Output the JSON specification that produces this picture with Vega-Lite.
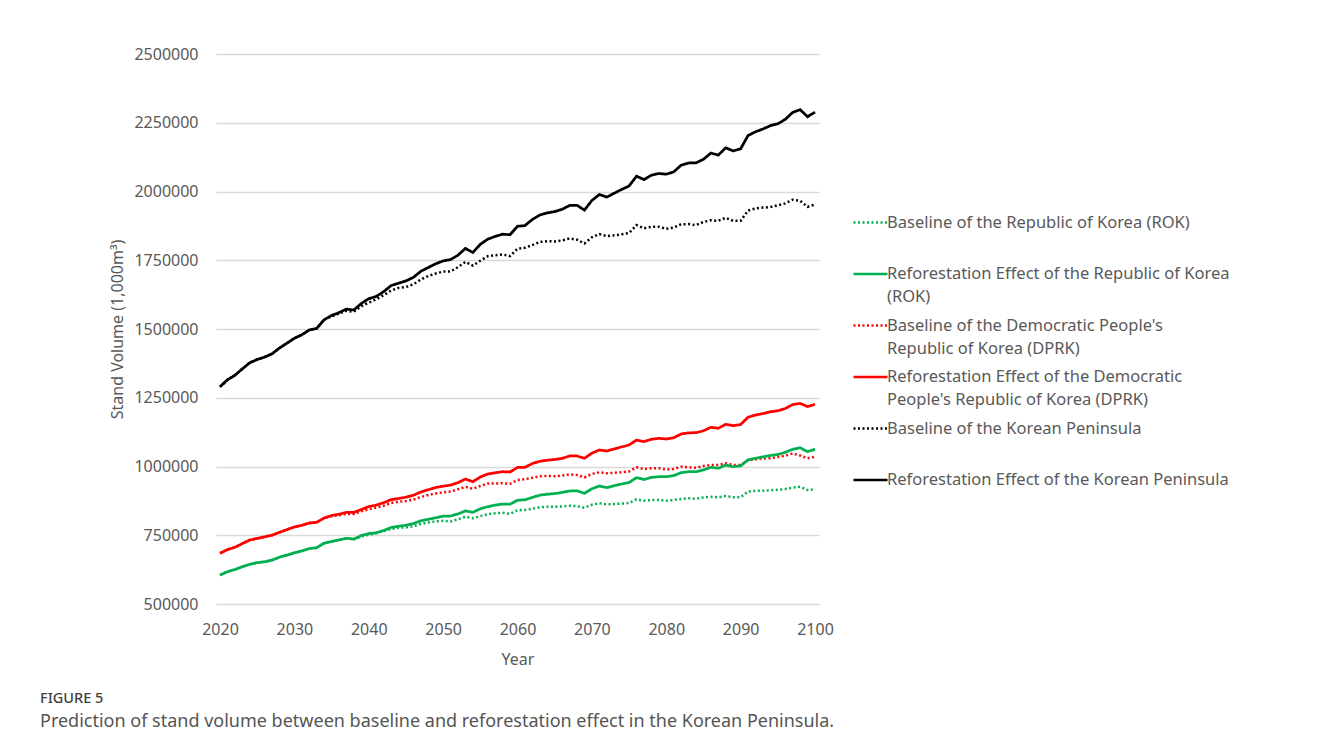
{
"$schema": "https://vega.github.io/schema/vega-lite/v6.json",
"width": 603, "height": 550,
"autosize": {"type": "none"},
"padding": {"left": 216, "top": 54, "right": 501, "bottom": 145},
"background": "white",
"config": {"view": {"stroke": null}, "font": "Noto Sans"},
"title": {"text": "FIGURE 5", "subtitle": "Prediction of stand volume between baseline and reforestation effect in the Korean Peninsula.", "orient": "bottom", "anchor": "start", "frame": "group", "dx": -176, "offset": 25, "font": "Noto Sans", "fontSize": 14.5, "fontWeight": 500, "color": "#404040", "subtitleFont": "Noto Sans", "subtitleFontSize": 18, "subtitleColor": "#555555", "subtitlePadding": 6},
"datasets": {"d": [
{"x":2020,"s":"a","v":605500},{"x":2021,"s":"a","v":617400},{"x":2022,"s":"a","v":625500},{"x":2023,"s":"a","v":635300},{"x":2024,"s":"a","v":644400},{"x":2025,"s":"a","v":650500},{"x":2026,"s":"a","v":653500},{"x":2027,"s":"a","v":659600},{"x":2028,"s":"a","v":670200},{"x":2029,"s":"a","v":677800},{"x":2030,"s":"a","v":686200},{"x":2031,"s":"a","v":692700},{"x":2032,"s":"a","v":701800},{"x":2033,"s":"a","v":704700},{"x":2034,"s":"a","v":721100},{"x":2035,"s":"a","v":727300},{"x":2036,"s":"a","v":733100},{"x":2037,"s":"a","v":738900},{"x":2038,"s":"a","v":735600},{"x":2039,"s":"a","v":745500},{"x":2040,"s":"a","v":751600},{"x":2041,"s":"a","v":757500},{"x":2042,"s":"a","v":765500},{"x":2043,"s":"a","v":772700},{"x":2044,"s":"a","v":777500},{"x":2045,"s":"a","v":778500},{"x":2046,"s":"a","v":782900},{"x":2047,"s":"a","v":790900},{"x":2048,"s":"a","v":796400},{"x":2049,"s":"a","v":800400},{"x":2050,"s":"a","v":802500},{"x":2051,"s":"a","v":800000},{"x":2052,"s":"a","v":808000},{"x":2053,"s":"a","v":817800},{"x":2054,"s":"a","v":811600},{"x":2055,"s":"a","v":819300},{"x":2056,"s":"a","v":826200},{"x":2057,"s":"a","v":830200},{"x":2058,"s":"a","v":831600},{"x":2059,"s":"a","v":828000},{"x":2060,"s":"a","v":841100},{"x":2061,"s":"a","v":841800},{"x":2062,"s":"a","v":846200},{"x":2063,"s":"a","v":852000},{"x":2064,"s":"a","v":853800},{"x":2065,"s":"a","v":853800},{"x":2066,"s":"a","v":854900},{"x":2067,"s":"a","v":857500},{"x":2068,"s":"a","v":855600},{"x":2069,"s":"a","v":850200},{"x":2070,"s":"a","v":860700},{"x":2071,"s":"a","v":866200},{"x":2072,"s":"a","v":862500},{"x":2073,"s":"a","v":863600},{"x":2074,"s":"a","v":865100},{"x":2075,"s":"a","v":867300},{"x":2076,"s":"a","v":880700},{"x":2077,"s":"a","v":875600},{"x":2078,"s":"a","v":878200},{"x":2079,"s":"a","v":878200},{"x":2080,"s":"a","v":875300},{"x":2081,"s":"a","v":878200},{"x":2082,"s":"a","v":881800},{"x":2083,"s":"a","v":884400},{"x":2084,"s":"a","v":882500},{"x":2085,"s":"a","v":887300},{"x":2086,"s":"a","v":889800},{"x":2087,"s":"a","v":888000},{"x":2088,"s":"a","v":892700},{"x":2089,"s":"a","v":888000},{"x":2090,"s":"a","v":888000},{"x":2091,"s":"a","v":909100},{"x":2092,"s":"a","v":912000},{"x":2093,"s":"a","v":912000},{"x":2094,"s":"a","v":913500},{"x":2095,"s":"a","v":915300},{"x":2096,"s":"a","v":917800},{"x":2097,"s":"a","v":922900},{"x":2098,"s":"a","v":926200},{"x":2099,"s":"a","v":914500},{"x":2100,"s":"a","v":917100},
{"x":2020,"s":"b","v":605500},{"x":2021,"s":"b","v":617400},{"x":2022,"s":"b","v":625500},{"x":2023,"s":"b","v":635300},{"x":2024,"s":"b","v":644400},{"x":2025,"s":"b","v":650500},{"x":2026,"s":"b","v":653500},{"x":2027,"s":"b","v":659600},{"x":2028,"s":"b","v":670200},{"x":2029,"s":"b","v":677800},{"x":2030,"s":"b","v":686200},{"x":2031,"s":"b","v":692700},{"x":2032,"s":"b","v":701800},{"x":2033,"s":"b","v":704700},{"x":2034,"s":"b","v":721100},{"x":2035,"s":"b","v":727300},{"x":2036,"s":"b","v":733100},{"x":2037,"s":"b","v":738900},{"x":2038,"s":"b","v":736000},{"x":2039,"s":"b","v":749100},{"x":2040,"s":"b","v":756000},{"x":2041,"s":"b","v":758900},{"x":2042,"s":"b","v":767300},{"x":2043,"s":"b","v":778200},{"x":2044,"s":"b","v":782900},{"x":2045,"s":"b","v":786500},{"x":2046,"s":"b","v":792400},{"x":2047,"s":"b","v":802500},{"x":2048,"s":"b","v":808000},{"x":2049,"s":"b","v":813500},{"x":2050,"s":"b","v":819300},{"x":2051,"s":"b","v":820000},{"x":2052,"s":"b","v":827300},{"x":2053,"s":"b","v":838500},{"x":2054,"s":"b","v":833500},{"x":2055,"s":"b","v":846200},{"x":2056,"s":"b","v":853800},{"x":2057,"s":"b","v":859600},{"x":2058,"s":"b","v":863600},{"x":2059,"s":"b","v":862900},{"x":2060,"s":"b","v":877100},{"x":2061,"s":"b","v":878900},{"x":2062,"s":"b","v":887600},{"x":2063,"s":"b","v":895600},{"x":2064,"s":"b","v":899300},{"x":2065,"s":"b","v":901500},{"x":2066,"s":"b","v":905800},{"x":2067,"s":"b","v":910900},{"x":2068,"s":"b","v":911600},{"x":2069,"s":"b","v":902500},{"x":2070,"s":"b","v":918900},{"x":2071,"s":"b","v":929100},{"x":2072,"s":"b","v":923300},{"x":2073,"s":"b","v":930200},{"x":2074,"s":"b","v":936400},{"x":2075,"s":"b","v":941800},{"x":2076,"s":"b","v":959600},{"x":2077,"s":"b","v":952700},{"x":2078,"s":"b","v":960400},{"x":2079,"s":"b","v":962900},{"x":2080,"s":"b","v":962900},{"x":2081,"s":"b","v":966900},{"x":2082,"s":"b","v":977500},{"x":2083,"s":"b","v":981100},{"x":2084,"s":"b","v":981100},{"x":2085,"s":"b","v":987300},{"x":2086,"s":"b","v":997100},{"x":2087,"s":"b","v":993500},{"x":2088,"s":"b","v":1005500},{"x":2089,"s":"b","v":999300},{"x":2090,"s":"b","v":1002500},{"x":2091,"s":"b","v":1024400},{"x":2092,"s":"b","v":1029800},{"x":2093,"s":"b","v":1034900},{"x":2094,"s":"b","v":1040400},{"x":2095,"s":"b","v":1043600},{"x":2096,"s":"b","v":1051300},{"x":2097,"s":"b","v":1062500},{"x":2098,"s":"b","v":1068000},{"x":2099,"s":"b","v":1054200},{"x":2100,"s":"b","v":1062500},
{"x":2020,"s":"c","v":684400},{"x":2021,"s":"c","v":697800},{"x":2022,"s":"c","v":706200},{"x":2023,"s":"c","v":719600},{"x":2024,"s":"c","v":732700},{"x":2025,"s":"c","v":738500},{"x":2026,"s":"c","v":744400},{"x":2027,"s":"c","v":750200},{"x":2028,"s":"c","v":760700},{"x":2029,"s":"c","v":770500},{"x":2030,"s":"c","v":780000},{"x":2031,"s":"c","v":786200},{"x":2032,"s":"c","v":794500},{"x":2033,"s":"c","v":797100},{"x":2034,"s":"c","v":812700},{"x":2035,"s":"c","v":818900},{"x":2036,"s":"c","v":822900},{"x":2037,"s":"c","v":827300},{"x":2038,"s":"c","v":827300},{"x":2039,"s":"c","v":837100},{"x":2040,"s":"c","v":844400},{"x":2041,"s":"c","v":850500},{"x":2042,"s":"c","v":857100},{"x":2043,"s":"c","v":867300},{"x":2044,"s":"c","v":872000},{"x":2045,"s":"c","v":874200},{"x":2046,"s":"c","v":879600},{"x":2047,"s":"c","v":889100},{"x":2048,"s":"c","v":896400},{"x":2049,"s":"c","v":901500},{"x":2050,"s":"c","v":906200},{"x":2051,"s":"c","v":909100},{"x":2052,"s":"c","v":917100},{"x":2053,"s":"c","v":926200},{"x":2054,"s":"c","v":918900},{"x":2055,"s":"c","v":929100},{"x":2056,"s":"c","v":938200},{"x":2057,"s":"c","v":937800},{"x":2058,"s":"c","v":939300},{"x":2059,"s":"c","v":937100},{"x":2060,"s":"c","v":950900},{"x":2061,"s":"c","v":953500},{"x":2062,"s":"c","v":958900},{"x":2063,"s":"c","v":964700},{"x":2064,"s":"c","v":965500},{"x":2065,"s":"c","v":964700},{"x":2066,"s":"c","v":967300},{"x":2067,"s":"c","v":971600},{"x":2068,"s":"c","v":969100},{"x":2069,"s":"c","v":960700},{"x":2070,"s":"c","v":972700},{"x":2071,"s":"c","v":978900},{"x":2072,"s":"c","v":975300},{"x":2073,"s":"c","v":977100},{"x":2074,"s":"c","v":979300},{"x":2075,"s":"c","v":981800},{"x":2076,"s":"c","v":997100},{"x":2077,"s":"c","v":990900},{"x":2078,"s":"c","v":993500},{"x":2079,"s":"c","v":993500},{"x":2080,"s":"c","v":989100},{"x":2081,"s":"c","v":990900},{"x":2082,"s":"c","v":999300},{"x":2083,"s":"c","v":997100},{"x":2084,"s":"c","v":995300},{"x":2085,"s":"c","v":1001800},{"x":2086,"s":"c","v":1005500},{"x":2087,"s":"c","v":1005500},{"x":2088,"s":"c","v":1011600},{"x":2089,"s":"c","v":1005500},{"x":2090,"s":"c","v":1005500},{"x":2091,"s":"c","v":1021800},{"x":2092,"s":"c","v":1026200},{"x":2093,"s":"c","v":1029500},{"x":2094,"s":"c","v":1029800},{"x":2095,"s":"c","v":1034500},{"x":2096,"s":"c","v":1038900},{"x":2097,"s":"c","v":1047300},{"x":2098,"s":"c","v":1040000},{"x":2099,"s":"c","v":1029800},{"x":2100,"s":"c","v":1035600},
{"x":2020,"s":"d","v":684400},{"x":2021,"s":"d","v":697800},{"x":2022,"s":"d","v":706200},{"x":2023,"s":"d","v":719600},{"x":2024,"s":"d","v":732700},{"x":2025,"s":"d","v":738500},{"x":2026,"s":"d","v":744400},{"x":2027,"s":"d","v":750200},{"x":2028,"s":"d","v":760700},{"x":2029,"s":"d","v":770500},{"x":2030,"s":"d","v":780000},{"x":2031,"s":"d","v":786200},{"x":2032,"s":"d","v":794500},{"x":2033,"s":"d","v":797100},{"x":2034,"s":"d","v":812700},{"x":2035,"s":"d","v":821800},{"x":2036,"s":"d","v":826500},{"x":2037,"s":"d","v":833500},{"x":2038,"s":"d","v":833100},{"x":2039,"s":"d","v":843600},{"x":2040,"s":"d","v":854200},{"x":2041,"s":"d","v":859300},{"x":2042,"s":"d","v":868400},{"x":2043,"s":"d","v":879600},{"x":2044,"s":"d","v":883600},{"x":2045,"s":"d","v":888400},{"x":2046,"s":"d","v":895300},{"x":2047,"s":"d","v":907300},{"x":2048,"s":"d","v":915600},{"x":2049,"s":"d","v":923600},{"x":2050,"s":"d","v":928400},{"x":2051,"s":"d","v":932400},{"x":2052,"s":"d","v":941100},{"x":2053,"s":"d","v":954500},{"x":2054,"s":"d","v":944700},{"x":2055,"s":"d","v":961800},{"x":2056,"s":"d","v":972700},{"x":2057,"s":"d","v":977100},{"x":2058,"s":"d","v":981100},{"x":2059,"s":"d","v":980000},{"x":2060,"s":"d","v":996400},{"x":2061,"s":"d","v":997100},{"x":2062,"s":"d","v":1010900},{"x":2063,"s":"d","v":1018900},{"x":2064,"s":"d","v":1022900},{"x":2065,"s":"d","v":1025500},{"x":2066,"s":"d","v":1029500},{"x":2067,"s":"d","v":1038200},{"x":2068,"s":"d","v":1038200},{"x":2069,"s":"d","v":1029800},{"x":2070,"s":"d","v":1048400},{"x":2071,"s":"d","v":1060000},{"x":2072,"s":"d","v":1056400},{"x":2073,"s":"d","v":1063600},{"x":2074,"s":"d","v":1071300},{"x":2075,"s":"d","v":1078200},{"x":2076,"s":"d","v":1096000},{"x":2077,"s":"d","v":1090500},{"x":2078,"s":"d","v":1098900},{"x":2079,"s":"d","v":1102500},{"x":2080,"s":"d","v":1100000},{"x":2081,"s":"d","v":1104400},{"x":2082,"s":"d","v":1118200},{"x":2083,"s":"d","v":1122500},{"x":2084,"s":"d","v":1122900},{"x":2085,"s":"d","v":1129800},{"x":2086,"s":"d","v":1142500},{"x":2087,"s":"d","v":1138900},{"x":2088,"s":"d","v":1153500},{"x":2089,"s":"d","v":1148400},{"x":2090,"s":"d","v":1152700},{"x":2091,"s":"d","v":1179300},{"x":2092,"s":"d","v":1187300},{"x":2093,"s":"d","v":1192400},{"x":2094,"s":"d","v":1198900},{"x":2095,"s":"d","v":1202500},{"x":2096,"s":"d","v":1210900},{"x":2097,"s":"d","v":1225100},{"x":2098,"s":"d","v":1229500},{"x":2099,"s":"d","v":1217800},{"x":2100,"s":"d","v":1226200},
{"x":2020,"s":"e","v":1289800},{"x":2021,"s":"e","v":1315300},{"x":2022,"s":"e","v":1331600},{"x":2023,"s":"e","v":1354900},{"x":2024,"s":"e","v":1377100},{"x":2025,"s":"e","v":1389100},{"x":2026,"s":"e","v":1397800},{"x":2027,"s":"e","v":1409800},{"x":2028,"s":"e","v":1430900},{"x":2029,"s":"e","v":1448400},{"x":2030,"s":"e","v":1466200},{"x":2031,"s":"e","v":1478900},{"x":2032,"s":"e","v":1496400},{"x":2033,"s":"e","v":1501800},{"x":2034,"s":"e","v":1533800},{"x":2035,"s":"e","v":1546200},{"x":2036,"s":"e","v":1556000},{"x":2037,"s":"e","v":1566200},{"x":2038,"s":"e","v":1562900},{"x":2039,"s":"e","v":1582500},{"x":2040,"s":"e","v":1596000},{"x":2041,"s":"e","v":1608000},{"x":2042,"s":"e","v":1622500},{"x":2043,"s":"e","v":1640000},{"x":2044,"s":"e","v":1649500},{"x":2045,"s":"e","v":1652700},{"x":2046,"s":"e","v":1662500},{"x":2047,"s":"e","v":1680000},{"x":2048,"s":"e","v":1692700},{"x":2049,"s":"e","v":1701800},{"x":2050,"s":"e","v":1708700},{"x":2051,"s":"e","v":1709100},{"x":2052,"s":"e","v":1725100},{"x":2053,"s":"e","v":1744000},{"x":2054,"s":"e","v":1730500},{"x":2055,"s":"e","v":1748400},{"x":2056,"s":"e","v":1764400},{"x":2057,"s":"e","v":1768000},{"x":2058,"s":"e","v":1770900},{"x":2059,"s":"e","v":1765100},{"x":2060,"s":"e","v":1792000},{"x":2061,"s":"e","v":1795300},{"x":2062,"s":"e","v":1805100},{"x":2063,"s":"e","v":1816700},{"x":2064,"s":"e","v":1819300},{"x":2065,"s":"e","v":1818500},{"x":2066,"s":"e","v":1822200},{"x":2067,"s":"e","v":1829100},{"x":2068,"s":"e","v":1824700},{"x":2069,"s":"e","v":1810900},{"x":2070,"s":"e","v":1833500},{"x":2071,"s":"e","v":1845100},{"x":2072,"s":"e","v":1837800},{"x":2073,"s":"e","v":1840700},{"x":2074,"s":"e","v":1844400},{"x":2075,"s":"e","v":1849100},{"x":2076,"s":"e","v":1877800},{"x":2077,"s":"e","v":1866500},{"x":2078,"s":"e","v":1871600},{"x":2079,"s":"e","v":1871600},{"x":2080,"s":"e","v":1864400},{"x":2081,"s":"e","v":1869100},{"x":2082,"s":"e","v":1881100},{"x":2083,"s":"e","v":1881500},{"x":2084,"s":"e","v":1877800},{"x":2085,"s":"e","v":1889100},{"x":2086,"s":"e","v":1895300},{"x":2087,"s":"e","v":1893500},{"x":2088,"s":"e","v":1904400},{"x":2089,"s":"e","v":1893500},{"x":2090,"s":"e","v":1893500},{"x":2091,"s":"e","v":1930900},{"x":2092,"s":"e","v":1938200},{"x":2093,"s":"e","v":1941500},{"x":2094,"s":"e","v":1943300},{"x":2095,"s":"e","v":1949800},{"x":2096,"s":"e","v":1956700},{"x":2097,"s":"e","v":1970200},{"x":2098,"s":"e","v":1966200},{"x":2099,"s":"e","v":1944400},{"x":2100,"s":"e","v":1952700},
{"x":2020,"s":"f","v":1289800},{"x":2021,"s":"f","v":1315300},{"x":2022,"s":"f","v":1331600},{"x":2023,"s":"f","v":1354900},{"x":2024,"s":"f","v":1377100},{"x":2025,"s":"f","v":1389100},{"x":2026,"s":"f","v":1397800},{"x":2027,"s":"f","v":1409800},{"x":2028,"s":"f","v":1430900},{"x":2029,"s":"f","v":1448400},{"x":2030,"s":"f","v":1466200},{"x":2031,"s":"f","v":1478900},{"x":2032,"s":"f","v":1496400},{"x":2033,"s":"f","v":1501800},{"x":2034,"s":"f","v":1533800},{"x":2035,"s":"f","v":1549100},{"x":2036,"s":"f","v":1559600},{"x":2037,"s":"f","v":1572400},{"x":2038,"s":"f","v":1569100},{"x":2039,"s":"f","v":1592700},{"x":2040,"s":"f","v":1610200},{"x":2041,"s":"f","v":1618200},{"x":2042,"s":"f","v":1635600},{"x":2043,"s":"f","v":1657800},{"x":2044,"s":"f","v":1666500},{"x":2045,"s":"f","v":1674900},{"x":2046,"s":"f","v":1687600},{"x":2047,"s":"f","v":1709800},{"x":2048,"s":"f","v":1723600},{"x":2049,"s":"f","v":1737100},{"x":2050,"s":"f","v":1747600},{"x":2051,"s":"f","v":1752400},{"x":2052,"s":"f","v":1768400},{"x":2053,"s":"f","v":1793100},{"x":2054,"s":"f","v":1778200},{"x":2055,"s":"f","v":1808000},{"x":2056,"s":"f","v":1826500},{"x":2057,"s":"f","v":1836700},{"x":2058,"s":"f","v":1844700},{"x":2059,"s":"f","v":1842900},{"x":2060,"s":"f","v":1873500},{"x":2061,"s":"f","v":1876000},{"x":2062,"s":"f","v":1898500},{"x":2063,"s":"f","v":1914500},{"x":2064,"s":"f","v":1922200},{"x":2065,"s":"f","v":1926900},{"x":2066,"s":"f","v":1935300},{"x":2067,"s":"f","v":1949100},{"x":2068,"s":"f","v":1949800},{"x":2069,"s":"f","v":1932400},{"x":2070,"s":"f","v":1967300},{"x":2071,"s":"f","v":1989100},{"x":2072,"s":"f","v":1979600},{"x":2073,"s":"f","v":1993800},{"x":2074,"s":"f","v":2007600},{"x":2075,"s":"f","v":2020000},{"x":2076,"s":"f","v":2055600},{"x":2077,"s":"f","v":2043300},{"x":2078,"s":"f","v":2059300},{"x":2079,"s":"f","v":2065500},{"x":2080,"s":"f","v":2062900},{"x":2081,"s":"f","v":2071300},{"x":2082,"s":"f","v":2095600},{"x":2083,"s":"f","v":2103600},{"x":2084,"s":"f","v":2104000},{"x":2085,"s":"f","v":2117100},{"x":2086,"s":"f","v":2139600},{"x":2087,"s":"f","v":2132400},{"x":2088,"s":"f","v":2158900},{"x":2089,"s":"f","v":2147600},{"x":2090,"s":"f","v":2155300},{"x":2091,"s":"f","v":2203600},{"x":2092,"s":"f","v":2217100},{"x":2093,"s":"f","v":2227300},{"x":2094,"s":"f","v":2239300},{"x":2095,"s":"f","v":2246200},{"x":2096,"s":"f","v":2262200},{"x":2097,"s":"f","v":2287600},{"x":2098,"s":"f","v":2297500},{"x":2099,"s":"f","v":2272000},{"x":2100,"s":"f","v":2288700}
]},
"data": {"name": "d"},
"encoding": {
  "x": {"field": "x", "type": "quantitative",
    "scale": {"domain": [2020, 2100], "nice": false, "zero": false, "padding": 4},
    "axis": {"values": [2020,2030,2040,2050,2060,2070,2080,2090,2100], "format": "d", "grid": false, "domain": false, "ticks": false, "labelFlush": false, "labelOverlap": false, "labelFontSize": 16, "labelColor": "#595959", "labelPadding": 17, "title": "Year", "titleFontSize": 16, "titleFontWeight": "normal", "titleColor": "#595959", "titlePadding": 14}},
  "y": {"field": "v", "type": "quantitative",
    "scale": {"domain": [500000, 2500000], "nice": false, "zero": false},
    "axis": {"values": [500000,750000,1000000,1250000,1500000,1750000,2000000,2250000,2500000], "format": "d", "domain": false, "ticks": false, "grid": true, "gridColor": "#d9d9d9", "gridWidth": 1.3, "labelFontSize": 16, "labelColor": "#595959", "labelPadding": 18, "title": "Stand Volume (1,000m³)", "titleFontSize": 16, "titleFontWeight": "normal", "titleColor": "#595959", "titlePadding": 8}},
  "color": {"field": "s", "type": "nominal",
    "scale": {"domain": ["a","b","c","d","e","f"], "range": ["#00b050","#00b050","#ff0000","#ff0000","#000000","#000000"]},
    "legend": {"orient": "none", "legendX": 636, "legendY": 150, "title": null, "padding": 0, "gridAlign": "all",
      "labelExpr": "datum.value == 'a' ? ['Baseline of the Republic of Korea (ROK)', ''] : datum.value == 'b' ? ['Reforestation Effect of the Republic of Korea', '(ROK)'] : datum.value == 'c' ? [\"Baseline of the Democratic People's\", 'Republic of Korea (DPRK)'] : datum.value == 'd' ? ['Reforestation Effect of the Democratic', \"People's Republic of Korea (DPRK)\"] : datum.value == 'e' ? ['Baseline of the Korean Peninsula', ''] : ['Reforestation Effect of the Korean Peninsula', '']",
      "labelFontSize": 16.5, "labelColor": "#595959", "labelLimit": 600, "labelOffset": -2, "labelBaseline": "middle",
      "symbolType": "stroke", "symbolSize": 1156, "symbolStrokeWidth": 2.5, "rowPadding": 1.5,
      "encode": {"labels": {"update": {"lineHeight": {"value": 23}}}}}},
  "strokeDash": {"field": "s", "type": "nominal",
    "scale": {"domain": ["a","b","c","d","e","f"], "range": [[2,2.5],[1,0],[2,2.5],[1,0],[2,2.5],[1,0]]},
    "legend": {"orient": "none", "legendX": 636, "legendY": 150, "title": null, "padding": 0, "gridAlign": "all",
      "labelExpr": "datum.value == 'a' ? ['Baseline of the Republic of Korea (ROK)', ''] : datum.value == 'b' ? ['Reforestation Effect of the Republic of Korea', '(ROK)'] : datum.value == 'c' ? [\"Baseline of the Democratic People's\", 'Republic of Korea (DPRK)'] : datum.value == 'd' ? ['Reforestation Effect of the Democratic', \"People's Republic of Korea (DPRK)\"] : datum.value == 'e' ? ['Baseline of the Korean Peninsula', ''] : ['Reforestation Effect of the Korean Peninsula', '']",
      "labelFontSize": 16.5, "labelColor": "#595959", "labelLimit": 600, "labelOffset": -2, "labelBaseline": "middle",
      "symbolType": "stroke", "symbolSize": 1156, "symbolStrokeWidth": 2.5, "rowPadding": 1.5,
      "encode": {"labels": {"update": {"lineHeight": {"value": 23}}}}}}
},
"layer": [
  {"transform": [{"filter": {"field": "s", "oneOf": ["a","c","e"]}}], "mark": {"type": "line", "strokeWidth": 2.5}},
  {"transform": [{"filter": {"field": "s", "oneOf": ["b","d","f"]}}], "mark": {"type": "line", "strokeWidth": 2.75}}
]
}
